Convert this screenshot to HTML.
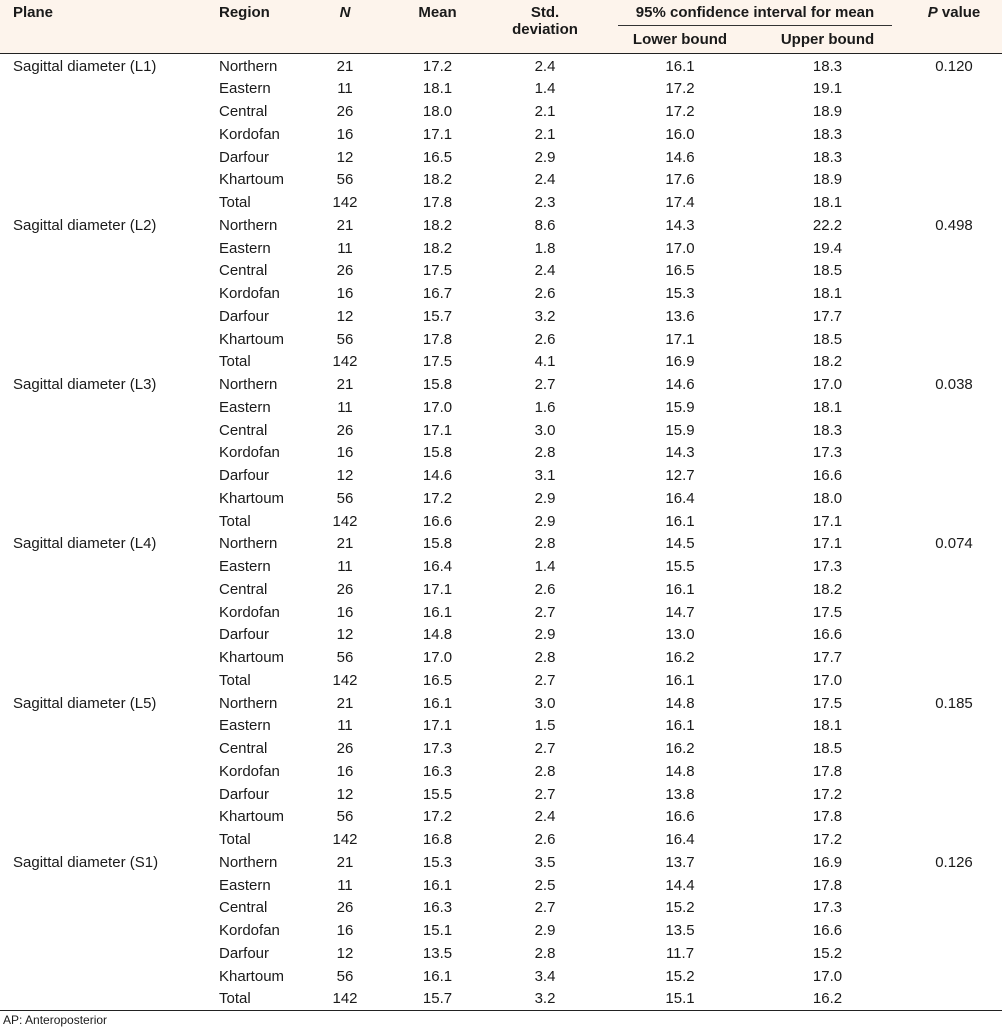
<!DOCTYPE html>
<html><head><meta charset="utf-8"><style>
body{margin:0;width:1002px;height:1031px;background:#fff;font-family:"Liberation Sans",Arial,sans-serif;font-size:15px;color:#1a1a1a;position:relative;overflow:hidden}
.hd{position:absolute;left:0;top:0;width:1002px;height:53px;background:#fdf4ec;border-bottom:1.5px solid #222}
.h{position:absolute;font-weight:bold;font-size:15px;line-height:17px}
.c{text-align:center}
.row{position:absolute;left:0;width:1002px;height:22.75px;line-height:22.75px}
.row span{position:absolute;top:0}
.bot{position:absolute;left:0;top:1010px;width:1002px;border-top:1.5px solid #222}
</style></head><body>
<div class="hd">
<div class="h" style="left:13px;top:4px">Plane</div>
<div class="h" style="left:219px;top:4px">Region</div>
<div class="h c" style="left:320px;width:50px;top:4px"><i>N</i></div>
<div class="h c" style="left:400px;width:75px;top:4px">Mean</div>
<div class="h c" style="left:500px;width:90px;top:4px">Std.<br>deviation</div>
<div class="h c" style="left:600px;width:310px;top:4px">95% confidence interval for mean</div>
<div style="position:absolute;left:618px;width:274px;top:25px;border-top:1px solid #333"></div>
<div class="h c" style="left:620px;width:120px;top:31px">Lower bound</div>
<div class="h c" style="left:765px;width:125px;top:31px">Upper bound</div>
<div class="h c" style="left:910px;width:88px;top:4px"><i>P</i> value</div>
</div>
<div id="rows"></div>
<div class="bot"></div>
<div style="position:absolute;left:3px;top:1013px;font-size:12px">AP: Anteroposterior</div>
<script>
var g=[["L1","0.120",[["21","17.2","2.4","16.1","18.3"],["11","18.1","1.4","17.2","19.1"],["26","18.0","2.1","17.2","18.9"],["16","17.1","2.1","16.0","18.3"],["12","16.5","2.9","14.6","18.3"],["56","18.2","2.4","17.6","18.9"],["142","17.8","2.3","17.4","18.1"]]],
["L2","0.498",[["21","18.2","8.6","14.3","22.2"],["11","18.2","1.8","17.0","19.4"],["26","17.5","2.4","16.5","18.5"],["16","16.7","2.6","15.3","18.1"],["12","15.7","3.2","13.6","17.7"],["56","17.8","2.6","17.1","18.5"],["142","17.5","4.1","16.9","18.2"]]],
["L3","0.038",[["21","15.8","2.7","14.6","17.0"],["11","17.0","1.6","15.9","18.1"],["26","17.1","3.0","15.9","18.3"],["16","15.8","2.8","14.3","17.3"],["12","14.6","3.1","12.7","16.6"],["56","17.2","2.9","16.4","18.0"],["142","16.6","2.9","16.1","17.1"]]],
["L4","0.074",[["21","15.8","2.8","14.5","17.1"],["11","16.4","1.4","15.5","17.3"],["26","17.1","2.6","16.1","18.2"],["16","16.1","2.7","14.7","17.5"],["12","14.8","2.9","13.0","16.6"],["56","17.0","2.8","16.2","17.7"],["142","16.5","2.7","16.1","17.0"]]],
["L5","0.185",[["21","16.1","3.0","14.8","17.5"],["11","17.1","1.5","16.1","18.1"],["26","17.3","2.7","16.2","18.5"],["16","16.3","2.8","14.8","17.8"],["12","15.5","2.7","13.8","17.2"],["56","17.2","2.4","16.6","17.8"],["142","16.8","2.6","16.4","17.2"]]],
["S1","0.126",[["21","15.3","3.5","13.7","16.9"],["11","16.1","2.5","14.4","17.8"],["26","16.3","2.7","15.2","17.3"],["16","15.1","2.9","13.5","16.6"],["12","13.5","2.8","11.7","15.2"],["56","16.1","3.4","15.2","17.0"],["142","15.7","3.2","15.1","16.2"]]]];
var reg=["Northern","Eastern","Central","Kordofan","Darfour","Khartoum","Total"];
var cols=[[310,70],[400,75],[500,90],[620,120],[765,125]];
var h="",k=0;
g.forEach(function(G){G[2].forEach(function(r,i){
var t=55.5+k*22.75;k++;
h+='<div class="row" style="top:'+t+'px">';
if(i==0){h+='<span style="left:13px">Sagittal diameter ('+G[0]+')</span><span class="c" style="left:910px;width:88px">'+G[1]+'</span>';}
h+='<span style="left:219px">'+reg[i]+'</span>';
r.forEach(function(v,j){h+='<span class="c" style="left:'+cols[j][0]+'px;width:'+cols[j][1]+'px">'+v+'</span>';});
h+='</div>';});});
document.getElementById("rows").innerHTML=h;
</script>
</body></html>
